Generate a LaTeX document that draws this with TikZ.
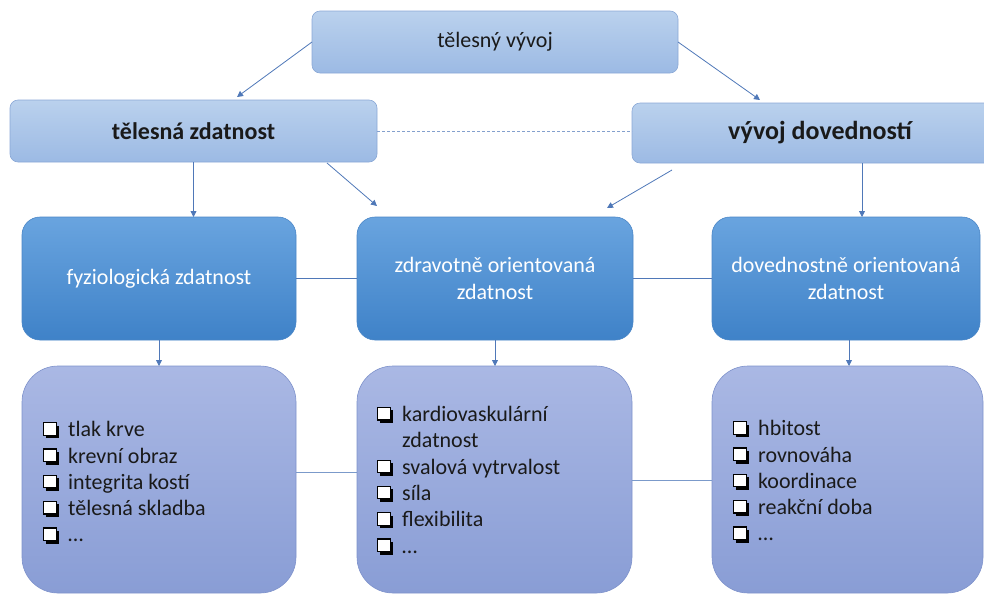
\documentclass[tikz,border=0pt]{standalone}
\usepackage{fontspec}
\setmainfont{Carlito}
\usetikzlibrary{arrows.meta}

\definecolor{linkblue}{HTML}{4F78B8}
\definecolor{paleTop}{HTML}{BAD1ED}
\definecolor{paleBot}{HTML}{9CBAE4}
\definecolor{paleEdge}{HTML}{8AA8D6}
\definecolor{midTop}{HTML}{69A4DF}
\definecolor{midBot}{HTML}{3F82C8}
\definecolor{midEdge}{HTML}{4A86C7}
\definecolor{lowTop}{HTML}{AAB8E4}
\definecolor{lowBot}{HTML}{899DD5}
\definecolor{lowEdge}{HTML}{7E92CB}
\definecolor{ink}{HTML}{1A1A1A}

% shadowed check box used as list bullet
\newcommand\cbx{\tikz[baseline=0pt,x=1pt,y=1pt]{%
  \fill[black] (3.2,-1.6) rectangle (16,11.2);
  \filldraw[fill=white,draw=black,line width=1.2pt] (0.6,1.6) rectangle (13,14);}}
\newcommand\itm[1]{\cbx\hspace{9pt}#1}
\newcommand\itmcont[1]{\phantom{\cbx}\hspace{9pt}#1}

\tikzset{
  box/.style={draw, inner sep=0pt, outer sep=0pt, line width=0.6pt, align=center},
  palebox/.style={box, rounded corners=8pt, top color=paleTop, bottom color=paleBot,
    draw=paleEdge, text=ink},
  midbox/.style={box, rounded corners=18pt, top color=midTop, bottom color=midBot,
    draw=midEdge, text=white, font=\fontsize{22}{26.5}\selectfont},
  lowbox/.style={box, rounded corners=36pt, top color=lowTop, bottom color=lowBot,
    draw=lowEdge},
  listtext/.style={anchor=west, align=left, text=ink, inner sep=0pt,
    font=\fontsize{22}{26.3}\selectfont},
  arr/.style={draw=linkblue, line width=0.8pt, -{Triangle[length=6pt,width=6pt]}},
  link/.style={draw=linkblue, line width=0.8pt},
}

\begin{document}
\begin{tikzpicture}[x=1pt,y=-1pt]
\clip (0,0) rectangle (984,595);

% top level
\node[palebox, minimum width=366pt, minimum height=62pt,
  font=\fontsize{22}{26}\selectfont] (top) at (495,42) {tělesný vývoj};

% second level
\node[palebox, minimum width=367pt, minimum height=62pt,
  font=\fontsize{24}{28}\selectfont\bfseries] (tz) at (193.5,131) {tělesná zdatnost};
\node[palebox, minimum width=376pt, minimum height=60pt,
  font=\fontsize{26}{30}\selectfont\bfseries] (vd) at (820,133) {vývoj dovedností};

% third level
\node[midbox, minimum width=274pt, minimum height=123pt] (fz) at (159,278.5)
  {fyziologická zdatnost};
\node[midbox, minimum width=276pt, minimum height=123pt] (zd) at (495,278.5)
  {zdravotně orientovaná\\zdatnost};
\node[midbox, minimum width=268pt, minimum height=123pt] (dv) at (846,278.5)
  {dovednostně orientovaná\\zdatnost};

% component lists
\node[lowbox, minimum width=274pt, minimum height=227pt] (lb) at (159,479.5) {};
\node[lowbox, minimum width=275pt, minimum height=227pt] (mb) at (494.5,479.5) {};
\node[lowbox, minimum width=271pt, minimum height=227pt] (rb) at (847.5,479.5) {};

\node[listtext] (ll) at ([xshift=21pt,yshift=-3pt]lb.west)
  {\itm{tlak krve}\\\itm{krevní obraz}\\\itm{integrita kostí}\\\itm{tělesná skladba}\\\itm{…}};
\node[listtext] (ml) at ([xshift=20pt,yshift=-1pt]mb.west)
  {\itm{kardiovaskulární}\\\itmcont{zdatnost}\\\itm{svalová vytrvalost}\\\itm{síla}\\\itm{flexibilita}\\\itm{…}};
\node[listtext] (rl) at ([xshift=21pt,yshift=-2pt]rb.west)
  {\itm{hbitost}\\\itm{rovnováha}\\\itm{koordinace}\\\itm{reakční doba}\\\itm{…}};

% connectors
\draw[arr] (top.west) -- ([xshift=43.5pt,yshift=3pt]tz.north);
\draw[arr] (top.east) -- ([xshift=-60pt,yshift=3pt]vd.north);
\draw[link, dashed, dash pattern=on 3pt off 2pt, draw=linkblue!70] (tz.east) -- (tz.east -| vd.west);

\draw[arr] (tz.south) -- (tz.south |- fz.north);
\draw[arr] ([xshift=-50pt,yshift=-1pt]tz.south east) -- ([xshift=20pt,yshift=11pt]zd.north west);
\draw[arr] ([xshift=40pt,yshift=-7pt]vd.south west) -- ([xshift=-26pt,yshift=9pt]zd.north east);
\draw[arr] ([xshift=42pt]vd.south) -- ([xshift=42pt]vd.south |- dv.north);

\draw[link] (fz.east) -- (zd.west);
\draw[link] (zd.east) -- (dv.west);

\draw[arr] (fz.south) -- (lb.north);
\draw[arr] (zd.south) -- (zd.south |- mb.north);
\draw[arr] ([xshift=3pt]dv.south) -- ([xshift=3pt]dv.south |- rb.north);

\draw[link, draw=linkblue!75] ([yshift=7pt]lb.east) -- ([yshift=7pt]lb.east -| mb.west);
\draw[link, draw=linkblue!75] ([yshift=-1pt]mb.east) -- ([yshift=-1pt]mb.east -| rb.west);
\end{tikzpicture}
\end{document}
